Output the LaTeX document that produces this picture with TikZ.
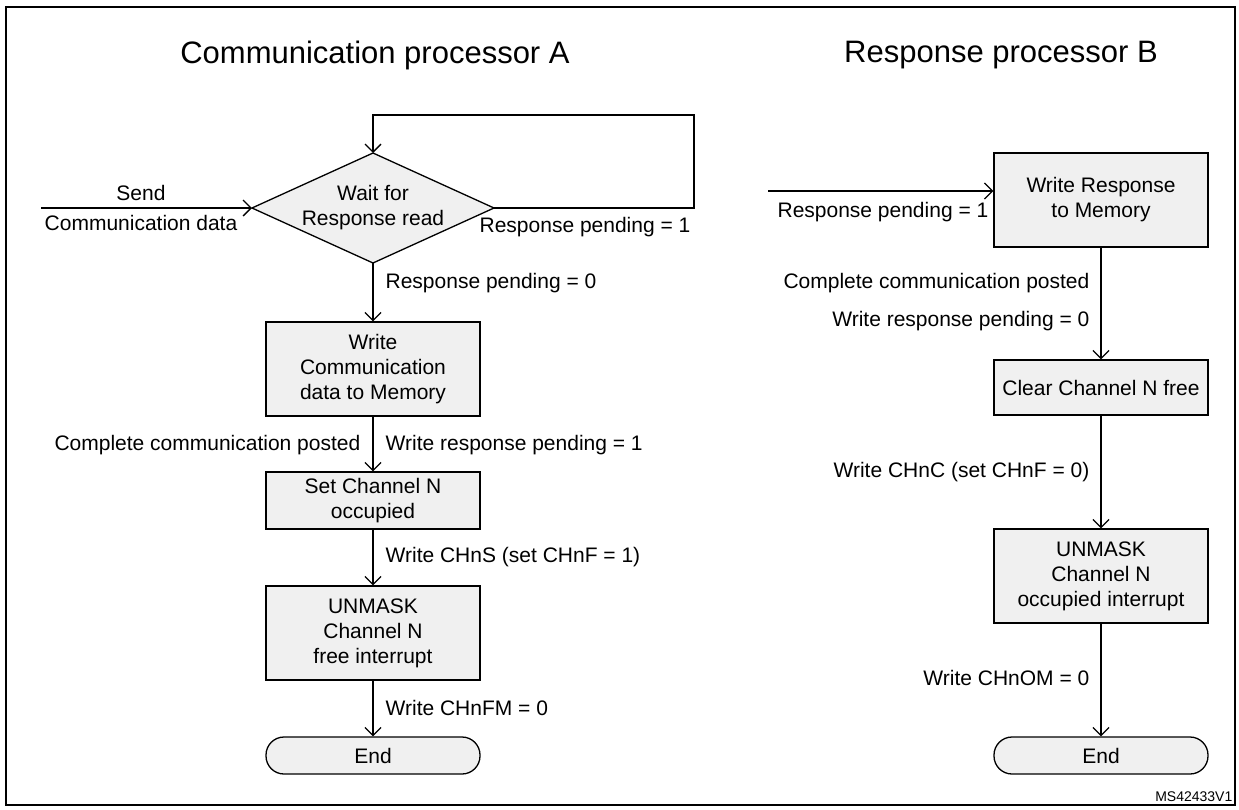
\documentclass[tikz,border=0pt]{standalone}
\usepackage{fontspec}
\setmainfont{Liberation Sans}
\usetikzlibrary{shapes.geometric,arrows.meta}
\definecolor{boxfill}{HTML}{F0F0F0}
\begin{document}
\begin{tikzpicture}[x=1pt,y=-1pt,
  font=\fontsize{21}{25}\selectfont,
  line width=1.3pt,
  box/.style={draw,fill=boxfill,minimum width=214pt,align=center,inner sep=0pt},
  term/.style={draw,fill=boxfill,rounded corners=18pt,minimum width=214pt,minimum height=37pt,inner sep=0pt},
  arr/.style={-{Straight Barb[length=8pt,width=16pt]}},
  lbl/.style={inner sep=0pt},
  title/.style={font=\fontsize{31}{36}\selectfont}]
\useasboundingbox (0,0) rectangle (1239,809);
\draw[line width=2pt] (6,7) rectangle (1235,805);
\node[title] (tA) at (375,55) {Communication processor A};
\node[title] (tB) at (1001,55) {Response processor B};
% left column: decision diamond
\coordinate (dW) at (252,208);
\coordinate (dE) at (494,208);
\coordinate (dN) at (373,153);
\coordinate (dS) at (373,263);
\draw[fill=boxfill] (dW) -- (dN) -- (dE) -- (dS) -- cycle;
\node[align=center,inner sep=0pt] (d) at (373,208) {Wait for\\Response read};
\coordinate (in) at (41,208);
\coordinate (l1) at (694,208);
\coordinate (l2) at (694,115);
\coordinate (l3) at (373,115);
\draw[arr] (in) -- (dW);
\draw[arr] (dE) -- (l1) -- (l2) -- (l3) -- (dN);
\node[lbl] (s1) at (141,193) {Send};
\node[lbl] (s2) at (141,223) {Communication data};
\node[lbl,anchor=west] (rp1) at (479,227) {Response pending = 1};
\node[lbl,anchor=west] (rp0) at (385,283) {Response pending = 0};
\node[box,minimum height=94pt] (b1) at (373,369) {Write\\Communication\\data to Memory};
\node[box,minimum height=57pt] (b2) at (373,500.5) {Set Channel N\\occupied};
\node[box,minimum height=94pt] (b3) at (373,633) {UNMASK\\Channel N\\free interrupt};
\node[term] (e1) at (373,755.5) {End};
\draw[arr] (dS) -- (b1.north);
\draw[arr] (b1) -- (b2);
\draw[arr] (b2) -- (b3);
\draw[arr] (b3) -- (e1);
\node[lbl,anchor=east] at (361,445) {Complete communication posted};
\node[lbl,anchor=west] at (385,445) {Write response pending = 1};
\node[lbl,anchor=west] at (385,557) {Write CHnS (set CHnF = 1)};
\node[lbl,anchor=west] at (385,708) {Write CHnFM = 0};
% right column
\node[box,minimum height=94pt] (r1) at (1101,200) {Write Response\\to Memory};
\coordinate (rin) at (768,191);
\draw[arr] (rin) -- (r1.west |- rin);
\node[lbl,anchor=east] at (989,212) {Response pending = 1};
\node[box,minimum height=55pt] (r2) at (1101,387.5) {Clear Channel N free};
\node[box,minimum height=94pt] (r3) at (1101,576) {UNMASK\\Channel N\\occupied interrupt};
\node[term] (e2) at (1101,755.5) {End};
\draw[arr] (r1) -- (r2);
\draw[arr] (r2) -- (r3);
\draw[arr] (r3) -- (e2);
\node[lbl,anchor=east] at (1090,283) {Complete communication posted};
\node[lbl,anchor=east] at (1090,321) {Write response pending = 0};
\node[lbl,anchor=east] at (1090,472) {Write CHnC (set CHnF = 0)};
\node[lbl,anchor=east] at (1090,678) {Write CHnOM = 0};
\node[lbl,anchor=east,font=\fontsize{14}{16}\selectfont] at (1233,797) {MS42433V1};
\end{tikzpicture}
\end{document}
